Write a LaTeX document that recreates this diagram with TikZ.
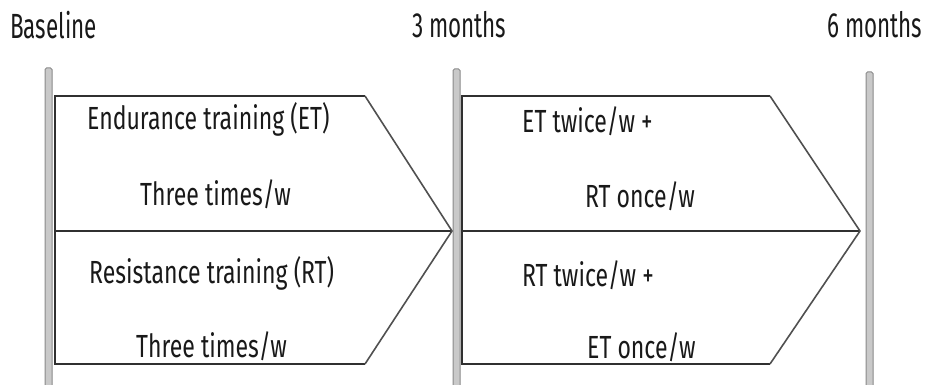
\documentclass[tikz,border=0pt]{standalone}
\usepackage{fontspec}
\setmainfont{Fira Sans}[FakeStretch=0.64]
\newfontfamily\lblfont{Fira Sans}[FakeStretch=0.72]
\definecolor{barfill}{HTML}{C9C9C9}
\definecolor{barline}{HTML}{8A8A8A}
\definecolor{boxline}{HTML}{303030}
\definecolor{diagline}{HTML}{505050}
\begin{document}
\begin{tikzpicture}[x=1pt,y=-1pt,
  timebar/.style={fill=barfill,draw=barline,line width=1pt,rounded corners=1.5pt},
  boxedge/.style={draw=boxline,line width=1.8pt,line join=miter},
  diag/.style={draw=diagline,line width=1.6pt},
  lbl/.style={font=\lblfont\fontsize{32}{34}\selectfont,inner sep=0pt,anchor=base west,text=black!90},
  hdr/.style={font=\fontsize{35}{37}\selectfont,inner sep=0pt,anchor=base west,text=black!90}]
\useasboundingbox (0,0) rectangle (929,385);
% time bars
\draw[timebar] (45,395) rectangle (52,68);
\draw[timebar] (453,395) rectangle (460,69);
\draw[timebar] (866,395) rectangle (873,72);
% coordinates
\coordinate (a1) at (55,96);
\coordinate (a2) at (365,96);
\coordinate (tipA) at (452,231);
\coordinate (a3) at (55,231);
\coordinate (a4) at (365,364);
\coordinate (a5) at (55,364);
\coordinate (b1) at (462,96);
\coordinate (b2) at (770,96);
\coordinate (tipB) at (860,231);
\coordinate (b3) at (462,231);
\coordinate (b4) at (770,364);
\coordinate (b5) at (462,364);
% first period
\draw[boxedge] (a2) -- (a1) -- (a5) -- (a4);
\draw[boxedge] (a3) -- (tipA);
\draw[diag] (a2) -- (tipA) -- (a4);
% second period
\draw[boxedge] (b2) -- (b1) -- (b5) -- (b4);
\draw[boxedge] (b3) -- (tipB);
\draw[diag] (b2) -- (tipB) -- (b4);
% headers
\node[hdr] (h0) at (10,39) {Baseline};
\node[hdr] (h3) at (412,38) {3 months};
\node[hdr] (h6) at (827,38) {6 months};
% labels
\node[lbl] (et) at (87,130) {Endurance training (ET)};
\node[lbl] (et3) at (140,205) {Three times/w};
\node[lbl] (rt) at (89,283) {Resistance training (RT)};
\node[lbl] (rt3) at (136,357) {Three times/w};
\node[lbl] (etw) at (522,133) {ET twice/w +};
\node[lbl] (rto) at (585,207) {RT once/w};
\node[lbl] (rtw) at (522,286) {RT twice/w +};
\node[lbl] (eto) at (587,358) {ET once/w};
\end{tikzpicture}
\end{document}
